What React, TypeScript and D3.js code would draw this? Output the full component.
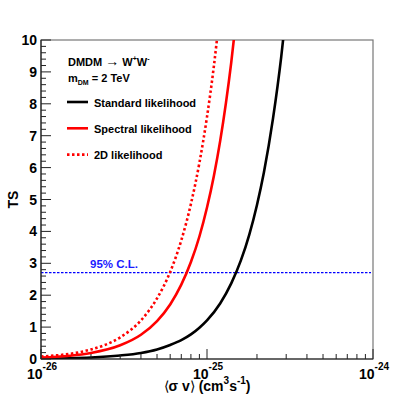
import React from 'react';
import * as d3 from 'd3';

// <sigma v> in cm^3 s^-1, TS
const stdSigma = [1e-26, 2e-26, 3e-26, 4e-26, 5e-26, 6e-26, 7e-26, 8e-26, 9e-26, 1e-25, 1.2e-25, 1.4e-25, 1.6e-25, 1.8e-25, 2e-25, 2.2e-25, 2.5e-25, 2.8e-25, 3e-25];
const stdTS = [0.012, 0.048, 0.11, 0.19, 0.3, 0.44, 0.59, 0.77, 0.98, 1.21, 1.74, 2.37, 3.09, 3.91, 4.83, 5.84, 7.55, 9.47, 10.9];

const specSigma = [1e-26, 2e-26, 3e-26, 4e-26, 5e-26, 6e-26, 7e-26, 8e-26, 9e-26, 1e-25, 1.1e-25, 1.2e-25, 1.3e-25, 1.4e-25, 1.5e-25];
const specTS = [0.047, 0.19, 0.43, 0.76, 1.19, 1.71, 2.33, 3.04, 3.84, 4.75, 5.74, 6.83, 8.02, 9.3, 10.68];

const twoDSigma = [1e-26, 2e-26, 3e-26, 4e-26, 5e-26, 6e-26, 7e-26, 8e-26, 9e-26, 1e-25, 1.1e-25, 1.2e-25];
const twoDTS = [0.076, 0.3, 0.68, 1.21, 1.9, 2.73, 3.72, 4.86, 6.15, 7.59, 9.18, 10.93];

const clLevel = 2.71;
const yTicks = [0, 1, 2, 3, 4, 5, 6, 7, 8, 9, 10];
const xMajor = [1e-26, 1e-25, 1e-24];
const xExp = ['-26', '-25', '-24'];

const width = 415;
const height = 399;
const margin = { top: 40, right: 42, bottom: 40, left: 41 };

const font = '"Liberation Sans", Arial, Helvetica, sans-serif';

const App = () => {
  const x = d3
    .scaleLog()
    .domain([1e-26, 1e-24])
    .range([margin.left, width - margin.right]);
  const y = d3
    .scaleLinear()
    .domain([0, 10])
    .range([height - margin.bottom, margin.top]);

  const line = d3
    .line<[number, number]>()
    .x(d => x(d[0]))
    .y(d => y(d[1]))
    .curve(d3.curveMonotoneX);

  const series = [
    { name: 'Standard likelihood', sig: stdSigma, ts: stdTS, color: 'black', dash: undefined },
    { name: 'Spectral likelihood', sig: specSigma, ts: specTS, color: '#ff0000', dash: undefined },
    { name: '2D likelihood', sig: twoDSigma, ts: twoDTS, color: '#ff0000', dash: '2.5,2.5' }
  ];

  const x0 = margin.left;
  const x1 = width - margin.right;
  const y0 = height - margin.bottom;
  const y1 = margin.top;

  const yMinor = d3.range(0, 10.001, 0.2).filter(v => Math.abs(v - Math.round(v)) > 0.01);
  const xMinor: number[] = [];
  [1e-26, 1e-25].forEach(dec => {
    for (let k = 2; k <= 9; k++) xMinor.push(k * dec);
  });

  return (
    <svg
      width={width}
      height={height}
      style={{ position: 'absolute', left: 0, top: 0, background: 'white' }}
      fontFamily={font}
    >
      <defs>
        <clipPath id="plot">
          <rect x={x0} y={y1} width={x1 - x0} height={y0 - y1} />
        </clipPath>
      </defs>

      {/* frame */}
      <rect x={x0} y={y1} width={x1 - x0} height={y0 - y1} fill="none" stroke="#777" strokeWidth={1.2} />

      {/* 95% CL line */}
      <line
        x1={x0}
        x2={x1 - 2}
        y1={y(clLevel)}
        y2={y(clLevel)}
        stroke="#0000ff"
        strokeWidth={1.3}
        strokeDasharray="2.5,1.5"
      />
      <text x={90} y={268} fontSize={11.5} fontWeight="bold" fill="#1a1aff">
        95% C.L.
      </text>

      <g clipPath="url(#plot)">
        {series.map(s => (
          <path
            key={s.name}
            d={line(s.sig.map((v, i) => [v, s.ts[i]] as [number, number])) || ''}
            fill="none"
            stroke={s.color}
            strokeWidth={2.6}
            strokeDasharray={s.dash}
          />
        ))}
      </g>

      {/* y axis */}
      <line x1={x0} x2={x0} y1={y0} y2={y1} stroke="#222" strokeWidth={1.2} />
      {yTicks.map(t => (
        <g key={`yt-${t}`}>
          <line x1={x0} x2={x0 + 10} y1={y(t)} y2={y(t)} stroke="#222" strokeWidth={1} />
          <text x={37} y={y(t) + 5} textAnchor="end" fontSize={14} fontWeight="bold">
            {t}
          </text>
        </g>
      ))}
      {yMinor.map(t => (
        <line key={`ym-${t}`} x1={x0} x2={x0 + 5} y1={y(t)} y2={y(t)} stroke="#222" strokeWidth={1} />
      ))}

      {/* x axis */}
      <line x1={x0} x2={x1} y1={y0} y2={y0} stroke="#222" strokeWidth={1.2} />
      {xMajor.map((t, i) => (
        <g key={`xt-${i}`}>
          <line x1={x(t)} x2={x(t)} y1={y0} y2={y0 - 10} stroke="#222" strokeWidth={1} />
          <text x={x(t) - 14} y={379} fontSize={14} fontWeight="bold">
            10
            <tspan fontSize={10} dy={-9}>
              {xExp[i]}
            </tspan>
          </text>
        </g>
      ))}
      {xMinor.map((t, i) => (
        <line key={`xm-${i}`} x1={x(t)} x2={x(t)} y1={y0} y2={y0 - 5} stroke="#222" strokeWidth={1} />
      ))}

      {/* axis titles */}
      <text x={(x0 + x1) / 2} y={391} textAnchor="middle" fontSize={14} fontWeight="bold">
        <tspan fontWeight="normal">⟨</tspan>σ v<tspan fontWeight="normal">⟩</tspan> (cm
        <tspan fontSize={10} dy={-7}>3</tspan>
        <tspan dy={7}>s</tspan>
        <tspan fontSize={10} dy={-7}>-1</tspan>
        <tspan dy={7}>)</tspan>
      </text>
      <text
        transform={`translate(18, ${(y0 + y1) / 2}) rotate(-90)`}
        textAnchor="middle"
        fontSize={14}
        fontWeight="bold"
      >
        TS
      </text>

      {/* legend */}
      <text x={68} y={66} fontSize={11} fontWeight="bold">
        DMDM <tspan fontWeight="normal" fontSize={14}>→</tspan> W
        <tspan fontSize={7} dy={-5}>+</tspan>
        <tspan dy={5}>W</tspan>
        <tspan fontSize={7} dy={-5}>-</tspan>
      </text>
      <text x={68} y={82} fontSize={11} fontWeight="bold">
        m
        <tspan fontSize={7} dy={3}>DM</tspan>
        <tspan dy={-3}> = 2 TeV</tspan>
      </text>
      {series.map((s, i) => {
        const ly = 102 + i * 26.3;
        return (
          <g key={`lg-${s.name}`}>
            <line x1={67} x2={88} y1={ly} y2={ly} stroke={s.color} strokeWidth={2.6} strokeDasharray={s.dash} />
            <text x={94} y={ly + 4.5} fontSize={11} fontWeight="bold">
              {s.name}
            </text>
          </g>
        );
      })}
    </svg>
  );
};

export default App;
